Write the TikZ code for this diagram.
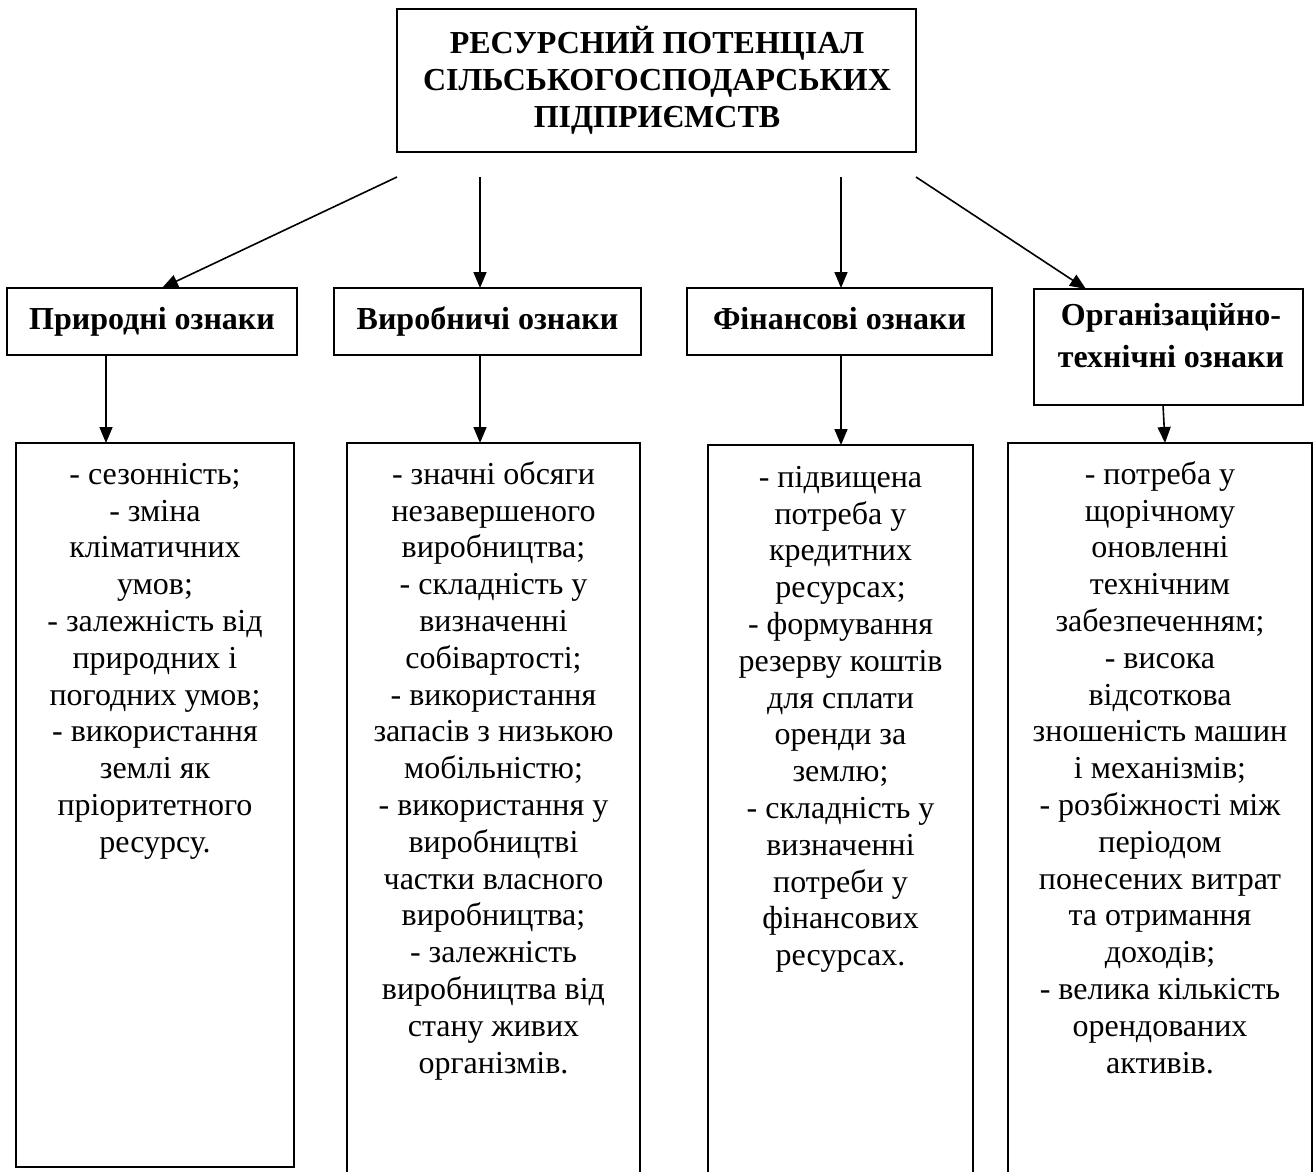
\documentclass[tikz,border=0pt]{standalone}
\usepackage{fontspec}
\setmainfont{Liberation Serif}
\usetikzlibrary{arrows.meta}
\newcommand{\topstrut}{\rule{0pt}{30pt}}
\begin{document}
\begin{tikzpicture}[x=1pt,y=-1pt,
  box/.style={draw, line width=1.6pt, inner sep=0pt, outer sep=0pt},
  titletxt/.style={font=\fontsize{32}{37}\selectfont\bfseries, align=center, inner sep=0pt, anchor=north},
  cattxt/.style={font=\fontsize{32}{42}\selectfont\bfseries, align=center, inner sep=0pt},
  listtxt/.style={font=\fontsize{32}{36.8}\selectfont, align=center, inner sep=0pt, anchor=north},
  arr/.style={line width=1.6pt, -{Triangle[length=16pt,width=13pt]}}
]
\useasboundingbox (0,0) rectangle (1314,1171);
\fill[white] (0,0) rectangle (1314,1171);

% top box
\node[box, minimum width=519pt, minimum height=143pt] (top) at (656.5,80.5) {};
\node[titletxt] (toptext) at (657,23) {\topstrut РЕСУРСНИЙ ПОТЕНЦІАЛ\\СІЛЬСЬКОГОСПОДАРСЬКИХ\\ПІДПРИЄМСТВ};

% category boxes
\node[box, cattxt, minimum width=290pt, minimum height=67pt] (c1) at (152,321.5) {\strut Природні ознаки};
\node[box, cattxt, minimum width=307pt, minimum height=67pt] (c2) at (487.5,321.5) {\strut Виробничі ознаки};
\node[box, cattxt, minimum width=305pt, minimum height=67pt] (c3) at (839.5,321.5) {\strut Фінансові ознаки};
\node[box, minimum width=269pt, minimum height=116pt] (c4) at (1168.5,347) {};
\node[cattxt, anchor=north] (c4t) at (1171,295) {\topstrut Організаційно-\\технічні ознаки};

% detail boxes
\node[box, minimum width=278pt, minimum height=724pt] (d1) at (155,805) {};
\node[box, minimum width=293pt, minimum height=747pt] (d2) at (493.5,816.5) {};
\node[box, minimum width=265pt, minimum height=745pt] (d3) at (840.5,817.5) {};
\node[box, minimum width=304pt, minimum height=747pt] (d4) at (1160,816.5) {};

\node[listtxt] (d1t) at (155,454) {\topstrut - сезонність;\\- зміна\\кліматичних\\умов;\\- залежність від\\природних і\\погодних умов;\\- використання\\землі як\\пріоритетного\\ресурсу.};
\node[listtxt] (d2t) at (493.5,454) {\topstrut - значні обсяги\\незавершеного\\виробництва;\\- складність у\\визначенні\\собівартості;\\- використання\\запасів з низькою\\мобільністю;\\- використання у\\виробництві\\частки власного\\виробництва;\\- залежність\\виробництва від\\стану живих\\організмів.};
\node[listtxt] (d3t) at (840.5,457) {\topstrut - підвищена\\потреба у\\кредитних\\ресурсах;\\- формування\\резерву коштів\\для сплати\\оренди за\\землю;\\- складність у\\визначенні\\потреби у\\фінансових\\ресурсах.};
\node[listtxt] (d4t) at (1160,454) {\topstrut - потреба у\\щорічному\\оновленні\\технічним\\забезпеченням;\\- висока\\відсоткова\\зношеність машин\\і механізмів;\\- розбіжності між\\періодом\\понесених витрат\\та отримання\\доходів;\\- велика кількість\\орендованих\\активів.};

% arrows from top
\coordinate (s1) at (397,177);
\coordinate (s2) at (480,177);
\coordinate (s3) at (841,177);
\coordinate (s4) at (916,177);
\draw[arr] (s1) -- ([xshift=10pt]c1.north);
\draw[arr] (s2) -- ([xshift=-7.5pt]c2.north);
\draw[arr] (s3) -- ([xshift=1.5pt]c3.north);
\draw[arr] (s4) -- ([xshift=-82.5pt]c4.north);

% arrows down
\draw[arr] ([xshift=-46pt]c1.south) -- ([xshift=-49pt]d1.north);
\draw[arr] ([xshift=-7.5pt]c2.south) -- ([xshift=-13.5pt]d2.north);
\draw[arr] ([xshift=1.5pt]c3.south) -- ([xshift=0.5pt]d3.north);
\draw[arr] ([xshift=-5.5pt]c4.south) -- ([xshift=5pt]d4.north);
\end{tikzpicture}
\end{document}
